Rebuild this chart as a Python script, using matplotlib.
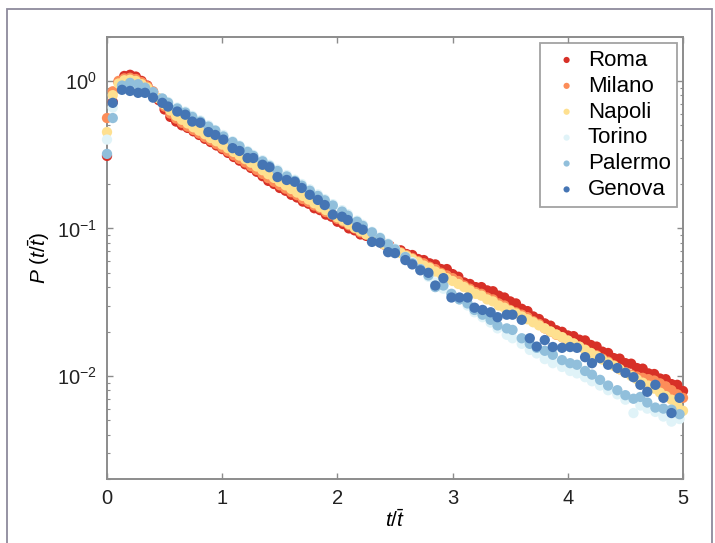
import numpy as np
import matplotlib
matplotlib.use("Agg")
import matplotlib.pyplot as plt
from matplotlib.patches import Rectangle

plt.rcParams['font.family'] = ['Liberation Sans', 'DejaVu Sans']
plt.rcParams['mathtext.fontset'] = 'custom'
plt.rcParams['mathtext.rm'] = 'Liberation Sans'
plt.rcParams['mathtext.it'] = 'Liberation Sans:italic'
plt.rcParams['mathtext.bf'] = 'Liberation Sans:bold'

cities = ["Roma", "Milano", "Napoli", "Torino", "Palermo", "Genova"]
colors = ["#d73027", "#fc8d59", "#fee090", "#e0f3f8", "#91bfdb", "#4575b4"]

# dense sampling (warm cities)
t_dense = np.round(np.arange(0, 5.001, 0.05), 2)

roma = [0.31, 0.72, 0.98, 1.08, 1.10, 1.07, 1.00, 0.93, 0.84, 0.74,
        0.64, 0.57, 0.53, 0.50, 0.48, 0.455, 0.43, 0.405, 0.385, 0.365,
        0.345, 0.325, 0.305, 0.288, 0.272, 0.257, 0.242, 0.226, 0.210, 0.200,
        0.188, 0.180, 0.169, 0.162, 0.152, 0.147, 0.137, 0.133, 0.124, 0.120,
        0.111, 0.107, 0.100, 0.097, 0.091, 0.089, 0.084, 0.083, 0.078, 0.077,
        0.072, 0.071, 0.067, 0.066, 0.062, 0.061, 0.058, 0.057, 0.053, 0.053,
        0.049, 0.047, 0.043, 0.042, 0.040, 0.040, 0.038, 0.0375, 0.035, 0.034,
        0.032, 0.031, 0.0285, 0.0275, 0.0253, 0.0243, 0.0227, 0.0219, 0.0204, 0.0199,
        0.0188, 0.0186, 0.0176, 0.0174, 0.0162, 0.0158, 0.0146, 0.0143, 0.0132, 0.0131,
        0.0122, 0.0121, 0.0113, 0.0112, 0.0104, 0.0103, 0.0096, 0.0095, 0.0088, 0.0087,
        0.0079]

milano = [0.56, 0.85, 1.00, 1.04, 1.05, 1.03, 0.98, 0.92, 0.85, 0.76,
          0.67, 0.60, 0.555, 0.52, 0.49, 0.465, 0.44, 0.415, 0.395, 0.373,
          0.353, 0.333, 0.313, 0.296, 0.280, 0.264, 0.249, 0.234, 0.219, 0.207,
          0.196, 0.186, 0.176, 0.168, 0.158, 0.151, 0.143, 0.137, 0.129, 0.124,
          0.116, 0.111, 0.105, 0.100, 0.094, 0.091, 0.086, 0.083, 0.079, 0.076,
          0.072, 0.069, 0.066, 0.063, 0.060, 0.058, 0.055, 0.053, 0.050, 0.048,
          0.046, 0.044, 0.041, 0.039, 0.037, 0.036, 0.034, 0.033, 0.031, 0.030,
          0.028, 0.027, 0.026, 0.025, 0.0235, 0.0225, 0.021, 0.020, 0.019, 0.0183,
          0.0172, 0.0166, 0.0158, 0.0151, 0.0143, 0.0138, 0.0131, 0.0125, 0.0118, 0.0111,
          0.0106, 0.0102, 0.0099, 0.0097, 0.0095, 0.0093, 0.0089, 0.0085, 0.0080, 0.0075,
          0.0071]

napoli = [0.45, 0.80, 0.96, 1.01, 1.02, 1.00, 0.95, 0.90, 0.83, 0.76,
          0.69, 0.63, 0.58, 0.545, 0.515, 0.485, 0.46, 0.435, 0.41, 0.39,
          0.37, 0.35, 0.33, 0.312, 0.295, 0.279, 0.263, 0.248, 0.233, 0.220,
          0.207, 0.196, 0.185, 0.175, 0.166, 0.157, 0.148, 0.140, 0.133, 0.126,
          0.119, 0.113, 0.107, 0.101, 0.096, 0.091, 0.086, 0.082, 0.078, 0.074,
          0.071, 0.068, 0.065, 0.062, 0.059, 0.056, 0.054, 0.051, 0.049, 0.046,
          0.044, 0.042, 0.040, 0.038, 0.036, 0.035, 0.033, 0.032, 0.030, 0.029,
          0.0277, 0.0265, 0.0253, 0.0242, 0.0231, 0.0220, 0.0210, 0.0200, 0.0191, 0.0183,
          0.0174, 0.0166, 0.0158, 0.0150, 0.0143, 0.0136, 0.0129, 0.0123, 0.0117, 0.0111,
          0.0105, 0.0100, 0.0095, 0.0090, 0.0086, 0.0082, 0.0077, 0.0073, 0.0069, 0.0063,
          0.0058]

# sparser sampling (cool cities)
genova_t = [0.05, 0.13, 0.20, 0.27, 0.33, 0.40, 0.48, 0.53, 0.61, 0.68,
            0.74, 0.81, 0.88, 0.94, 1.01, 1.09, 1.15, 1.22, 1.27, 1.35,
            1.41, 1.48, 1.56, 1.63, 1.69, 1.76, 1.83, 1.89, 1.96, 2.04,
            2.09, 2.17, 2.22, 2.30, 2.37, 2.44, 2.50, 2.59, 2.65, 2.72,
            2.79, 2.85, 2.92, 2.99, 3.06, 3.13, 3.19, 3.26, 3.33, 3.39,
            3.47, 3.52, 3.60, 3.67, 3.73, 3.80, 3.87, 3.95, 4.02, 4.08,
            4.15, 4.21, 4.28, 4.35, 4.43, 4.50, 4.57, 4.63, 4.69, 4.76,
            4.83, 4.90, 4.97]
genova = [0.71, 0.87, 0.855, 0.83, 0.83, 0.77, 0.71, 0.67, 0.62, 0.59,
          0.53, 0.52, 0.45, 0.43, 0.40, 0.35, 0.335, 0.30, 0.30, 0.27,
          0.26, 0.223, 0.213, 0.207, 0.188, 0.169, 0.156, 0.144, 0.124, 0.120,
          0.114, 0.102, 0.098, 0.081, 0.080, 0.069, 0.068, 0.061, 0.057, 0.052,
          0.050, 0.041, 0.046, 0.034, 0.034, 0.034, 0.029, 0.028, 0.027, 0.025,
          0.026, 0.026, 0.024, 0.018, 0.0158, 0.0175, 0.0157, 0.0155, 0.0157, 0.0155,
          0.0134, 0.0122, 0.0132, 0.0119, 0.0113, 0.0105, 0.0098, 0.0087, 0.0078, 0.0087,
          0.0071, 0.0056, 0.0071]

cool_t = [0.0] + genova_t
palermo = [0.32, 0.56, 0.93, 0.97, 0.95, 0.90, 0.84, 0.76, 0.71, 0.65, 0.61,
           0.57, 0.53, 0.49, 0.46, 0.42, 0.385, 0.36, 0.33, 0.31, 0.285,
           0.265, 0.245, 0.225, 0.21, 0.195, 0.18, 0.166, 0.155, 0.143, 0.13,
           0.122, 0.111, 0.104, 0.094, 0.086, 0.078, 0.072, 0.064, 0.058, 0.053,
           0.048, 0.040, 0.041, 0.036, 0.033, 0.031, 0.028, 0.026, 0.024, 0.022,
           0.021, 0.0205, 0.018, 0.0165, 0.0155, 0.0148, 0.0139, 0.0128, 0.0122, 0.0119,
           0.0108, 0.0102, 0.0094, 0.0086, 0.0080, 0.0074, 0.0070, 0.0072, 0.0066, 0.0061,
           0.0060, 0.0059, 0.0055]
torino = [0.40, 0.66, 0.90, 0.93, 0.92, 0.88, 0.83, 0.76, 0.72, 0.66, 0.62,
          0.58, 0.54, 0.50, 0.465, 0.43, 0.39, 0.365, 0.335, 0.315, 0.29,
          0.27, 0.25, 0.23, 0.214, 0.20, 0.184, 0.17, 0.158, 0.146, 0.133,
          0.125, 0.113, 0.106, 0.095, 0.087, 0.079, 0.073, 0.064, 0.059, 0.053,
          0.047, 0.043, 0.039, 0.036, 0.033, 0.030, 0.027, 0.025, 0.023, 0.021,
          0.019, 0.018, 0.0165, 0.015, 0.0142, 0.013, 0.0122, 0.0115, 0.0108, 0.0104,
          0.0098, 0.0092, 0.0086, 0.0080, 0.0075, 0.0069, 0.0056, 0.0063, 0.0060, 0.0057,
          0.0053, 0.0049, 0.0051]

series = [(t_dense, roma), (t_dense, milano), (t_dense, napoli),
          (cool_t, torino), (cool_t, palermo), (genova_t, genova)]

fig = plt.figure(figsize=(7.15, 5.43), dpi=100)
fig.patches.append(Rectangle((7/715, -0.05), (712-7)/715, 1.05 - 9/543,
                             transform=fig.transFigure, fill=False,
                             edgecolor="#8e8a9c", linewidth=1.3))
ax = fig.add_axes([107/715, 1 - 479/543, (683-107)/715, (479-36.5)/543])

for name, col, (tx, vals) in zip(cities, colors, series):
    ax.scatter(tx, vals, s=55, color=col, edgecolors='none', label=name,
               clip_on=False, zorder=3)

ax.set_yscale('log')
ax.set_xlim(0, 5)
ax.set_ylim(0.002, 2.0)
ax.set_xticks([0, 1, 2, 3, 4, 5])
ax.set_xticklabels(['0', '1', '2', '3', '4', '5'])

spine_col = "#8c8c8c"
for sp in ax.spines.values():
    sp.set_color(spine_col)
    sp.set_linewidth(1.4)
ax.tick_params(which='both', direction='in', top=True, right=True,
               color=spine_col, labelsize=14.5, labelcolor='#222222')
ax.tick_params(which='major', length=4, width=1.0, pad=7)
ax.tick_params(which='minor', length=2.5, width=0.8)

ax.set_xlabel(r'$t/\bar{t}$', fontsize=15, labelpad=1)
ax.set_ylabel(r'$P\ (t/\bar{t})$', fontsize=15, labelpad=4)

leg = ax.legend(loc='upper right', fontsize=16, frameon=True, fancybox=False,
                edgecolor=spine_col, handletextpad=0.05, markerscale=0.6,
                borderpad=0.3, labelspacing=0.22, handlelength=1.8,
                borderaxespad=0, bbox_to_anchor=(0.99, 0.985))
leg.get_frame().set_linewidth(1.3)

fig.savefig("out.png", dpi=100)
